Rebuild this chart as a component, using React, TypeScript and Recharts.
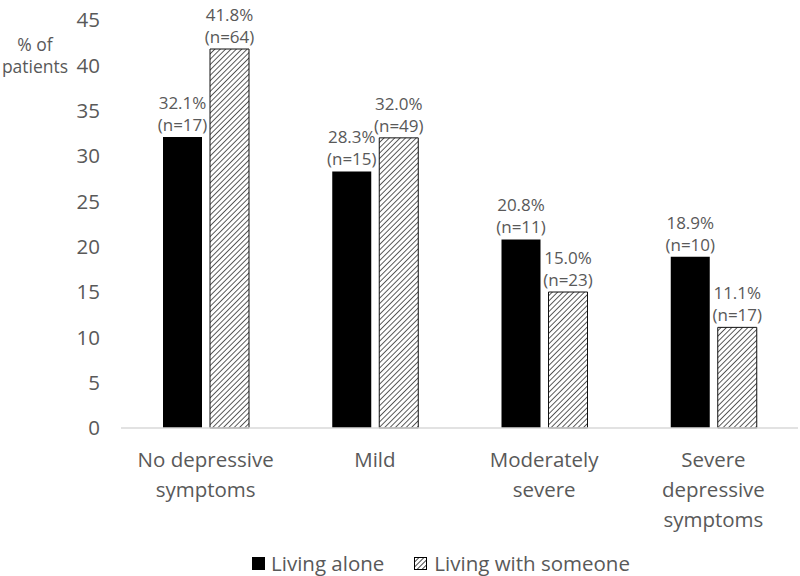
import React from "react";
import { BarChart, Bar, XAxis, YAxis, Legend, LabelList } from "recharts";

const categories = [
  "No depressive\nsymptoms",
  "Mild",
  "Moderately\nsevere",
  "Severe\ndepressive\nsymptoms",
];
const livingAlone = [32.1, 28.3, 20.8, 18.9];
const livingAloneN = [17, 15, 11, 10];
const livingWithSomeone = [41.8, 32.0, 15.0, 11.1];
const livingWithSomeoneN = [64, 49, 23, 17];
const yTicks = [0, 5, 10, 15, 20, 25, 30, 35, 40, 45];
const seriesNames = ["Living alone", "Living with someone"];

const data = categories.map((c, i) => ({
  category: c,
  alone: livingAlone[i],
  someone: livingWithSomeone[i],
}));

const FONT = "'Open Sans', sans-serif";
const GRAY = "#595959";

const makeLabel = (ns: number[]) => (props: any) => {
  const { x, y, width, value, index } = props;
  const cx = Number(x) + Number(width) / 2;
  const top = Number(y);
  return (
    <text
      x={cx}
      textAnchor="middle"
      fontFamily={FONT}
      fontSize={17}
      fill={GRAY}
    >
      <tspan x={cx} y={top - 28}>{`${Number(value).toFixed(1)}%`}</tspan>
      <tspan x={cx} y={top - 6}>{`(n=${ns[index]})`}</tspan>
    </text>
  );
};

const CategoryTick = (props: any) => {
  const { x, y, payload } = props;
  const lines = String(payload.value).split("\n");
  return (
    <text
      x={x}
      textAnchor="middle"
      fontFamily={FONT}
      fontSize={20.5}
      fill={GRAY}
    >
      {lines.map((l, i) => (
        <tspan key={i} x={x} y={y + 39 + i * 30}>
          {l}
        </tspan>
      ))}
    </text>
  );
};

const YTitle = () => (
  <text textAnchor="middle" fontFamily={FONT} fontSize={17.5} fill={GRAY}>
    <tspan x={35} y={51}>% of</tspan>
    <tspan x={35} y={73}>patients</tspan>
  </text>
);

const LegendContent = () => (
  <div
    style={{
      height: 26,
      display: "flex",
      justifyContent: "center",
      alignItems: "center",
      fontFamily: FONT,
      fontSize: 20.5,
      color: GRAY,
      paddingLeft: 84,
    }}
  >
    <span style={{ display: "flex", alignItems: "center", marginRight: 30 }}>
      <svg width={13} height={13} style={{ marginRight: 6 }}>
        <rect x={0} y={0} width={13} height={13} fill="#000" />
      </svg>
      {seriesNames[0]}
    </span>
    <span style={{ display: "flex", alignItems: "center" }}>
      <svg width={13} height={13} style={{ marginRight: 7 }}>
        <defs>
          <pattern
            id="hatchLegend"
            patternUnits="userSpaceOnUse"
            width={3.5}
            height={3.5}
            patternTransform="rotate(45)"
          >
            <rect width={3.5} height={3.5} fill="#fff" />
            <line x1={0} y1={0} x2={0} y2={3.5} stroke="#222" strokeWidth={1.6} />
          </pattern>
        </defs>
        <rect x={0.5} y={0.5} width={12} height={12} fill="url(#hatchLegend)" stroke="#000" strokeWidth={1} />
      </svg>
      {seriesNames[1]}
    </span>
  </div>
);

export default function App() {
  return (
    <div style={{ position: "absolute", left: 0, top: 0, background: "#fff" }}>
      <BarChart
        width={800}
        height={576}
        data={data}
        margin={{ top: 20, right: 2, bottom: 0, left: 0 }}
        barSize={39}
        barGap={8}
      >
        <defs>
          <pattern
            id="hatch"
            patternUnits="userSpaceOnUse"
            width={3.8}
            height={3.8}
            patternTransform="rotate(45)"
          >
            <rect width={3.8} height={3.8} fill="#fff" />
            <line x1={0} y1={0} x2={0} y2={3.8} stroke="#333" strokeWidth={1.6} />
          </pattern>
        </defs>
        <XAxis
          dataKey="category"
          axisLine={{ stroke: "#d9d9d9", strokeWidth: 1.5 }}
          tickLine={false}
          tickSize={0}
          tickMargin={0}
          height={122}
          interval={0}
          tick={<CategoryTick />}
        />
        <YAxis
          domain={[0, 45]}
          ticks={yTicks}
          interval={0}
          axisLine={false}
          tickLine={false}
          tickSize={0}
          tickMargin={21}
          width={121}
          tick={{ fontFamily: FONT, fontSize: 20.5, fill: GRAY }}
          label={{ content: <YTitle /> }}
        />
        <Legend
          verticalAlign="bottom"
          height={26}
          content={<LegendContent />}
        />
        <Bar
          dataKey="alone"
          name={seriesNames[0]}
          fill="#000"
          isAnimationActive={false}
        >
          <LabelList dataKey="alone" content={makeLabel(livingAloneN)} />
        </Bar>
        <Bar
          dataKey="someone"
          name={seriesNames[1]}
          fill="url(#hatch)"
          stroke="#111"
          strokeWidth={1}
          isAnimationActive={false}
        >
          <LabelList dataKey="someone" content={makeLabel(livingWithSomeoneN)} />
        </Bar>
      </BarChart>
    </div>
  );
}
